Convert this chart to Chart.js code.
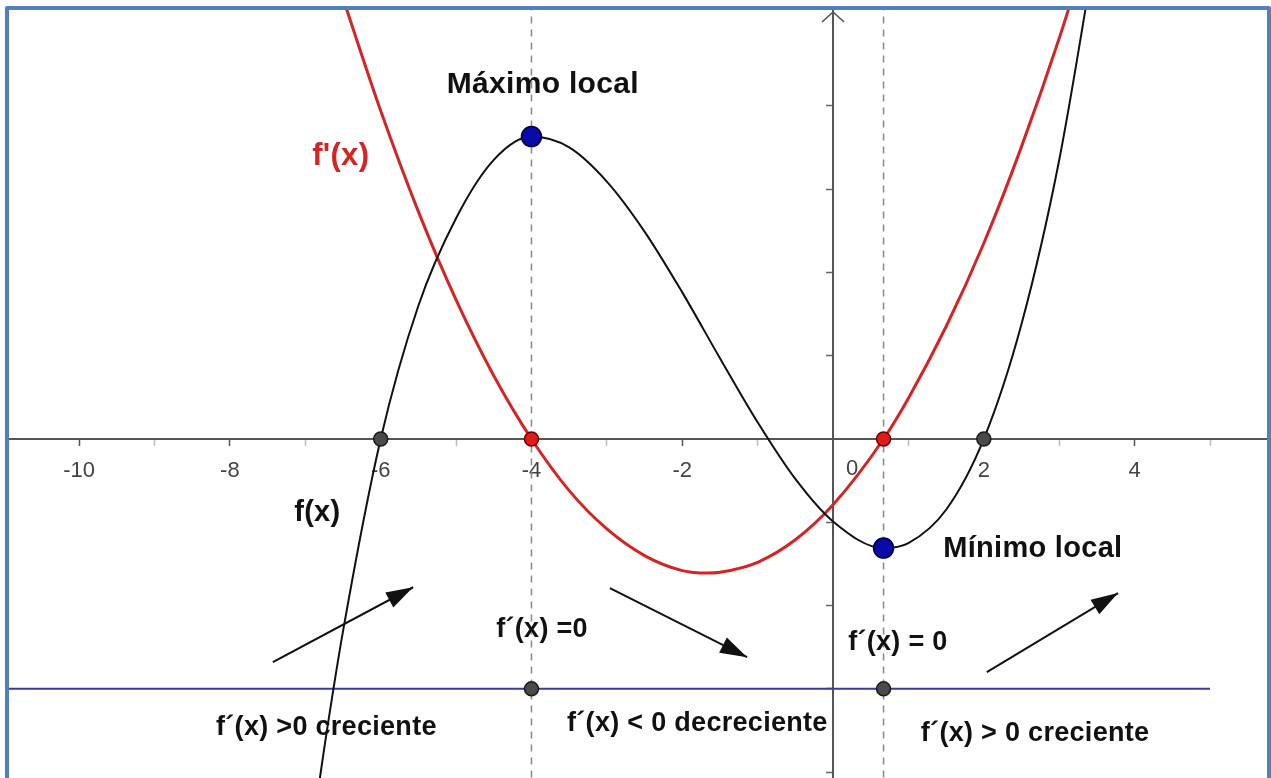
<!DOCTYPE html>
<html>
<head>
<meta charset="utf-8">
<script src="https://cdn.jsdelivr.net/npm/chart.js@4.4.1/dist/chart.umd.min.js"></script>
<style>
  html, body { margin: 0; padding: 0; background: #fff; overflow: hidden; }
  #frame { position: absolute; left: 5px; top: 6px; width: 1258px; height: 800px; border: 4px solid #4f81bd; border-radius: 2px; }
  canvas { display: block; }
</style>
</head>
<body>
<div id="frame"><canvas id="chart" width="1258" height="768"></canvas></div>
<script>
// f(x)
const fX = [-6.9, -6.75, -6.5, -6, -5.5, -5, -4.5, -4, -3.5, -3, -2.5, -2, -1.5, -1, -0.5, 0, 0.67, 1, 1.5, 2, 2.5, 3, 3.5];
const fY = [-4.66, -3.72, -2.31, 0, 1.6, 2.65, 3.35, 3.63, 3.5, 3.09, 2.49, 1.76, 0.97, 0.2, -0.48, -0.99, -1.31, -1.25, -0.85, 0, 1.38, 3.35, 5.98];

// f'(x)
const dX = [-6.5, -6, -5.5, -5, -4.5, -4, -3.5, -3, -2.5, -2, -1.67, -1.5, -1, -0.5, 0, 0.67, 1, 1.5, 2, 2.5, 3, 3.5];
const dY = [5.29, 3.94, 2.73, 1.67, 0.76, 0, -0.62, -1.08, -1.4, -1.58, -1.61, -1.6, -1.48, -1.21, -0.79, 0, 0.49, 1.35, 2.35, 3.51, 4.81, 6.26];

// critical points and marked points
const critX = [-4, 0.67];
const extremaY = [3.63, -1.31];
const rootsX = [-6, 2];
const signLineY = -3;
const signLineX = [-11, 5];

// direction arrows (tail, tip)
const arrow1X = [-7.43, -5.57], arrow1Y = [-2.68, -1.78];
const arrow2X = [-2.96, -1.14], arrow2Y = [-1.79, -2.62];
const arrow3X = [2.04, 3.78], arrow3Y = [-2.8, -1.85];

const xTicks = [-10, -9, -8, -7, -6, -5, -4, -3, -2, -1, 1, 2, 3, 4, 5];
const yTicks = [-4, -3, -2, -1, 1, 2, 3, 4];

const notes = [
  { text: 'Máximo local', x: -3.85, y: 4.25, size: 30, color: '#111' },
  { text: "f'(x)", x: -6.53, y: 3.39, size: 31, color: '#d42424' },
  { text: 'f(x)', x: -6.84, y: -0.89, size: 29, color: '#111' },
  { text: 'Mínimo local', x: 2.65, y: -1.32, size: 29, color: '#111' },
  { text: 'f´(x) =0', x: -3.86, y: -2.29, size: 27, color: '#111' },
  { text: 'f´(x) = 0', x: 0.86, y: -2.44, size: 27, color: '#111' },
  { text: 'f´(x) >0 creciente', x: -6.72, y: -3.47, size: 27, color: '#111' },
  { text: 'f´(x) < 0 decreciente', x: -1.8, y: -3.42, size: 27, color: '#111' },
  { text: 'f´(x) > 0 creciente', x: 2.68, y: -3.54, size: 27, color: '#111' },
];

const pts = (xs, ys) => xs.map((x, i) => ({ x: x, y: ys[i] }));

const arrowSets = [
  { data: pts(arrow1X, arrow1Y) },
  { data: pts(arrow2X, arrow2Y) },
  { data: pts(arrow3X, arrow3Y) },
].map(a => ({
  type: 'line', data: a.data, borderColor: '#111', borderWidth: 2,
  pointRadius: 0, isArrow: true,
}));

const decor = {
  id: 'decor',
  afterDatasetsDraw(chart) {
    const ctx = chart.ctx;
    const xs = chart.scales.x, ys = chart.scales.y;
    ctx.save();

    // arrowheads
    chart.data.datasets.forEach((ds, i) => {
      if (!ds.isArrow) return;
      const m = chart.getDatasetMeta(i).data;
      const p0 = m[0], p1 = m[1];
      const a = Math.atan2(p1.y - p0.y, p1.x - p0.x);
      ctx.fillStyle = '#111';
      ctx.beginPath();
      ctx.moveTo(p1.x, p1.y);
      ctx.lineTo(p1.x - 27 * Math.cos(a) + 8.5 * Math.sin(a), p1.y - 27 * Math.sin(a) - 8.5 * Math.cos(a));
      ctx.lineTo(p1.x - 27 * Math.cos(a) - 8.5 * Math.sin(a), p1.y - 27 * Math.sin(a) + 8.5 * Math.cos(a));
      ctx.closePath();
      ctx.fill();
    });

    // y axis arrow
    const x0 = xs.getPixelForValue(0), y0 = ys.getPixelForValue(0);
    const top = chart.chartArea.top;
    ctx.strokeStyle = '#555';
    ctx.lineWidth = 1.6;
    ctx.beginPath();
    ctx.moveTo(x0 - 11, top + 12);
    ctx.lineTo(x0, top + 2);
    ctx.lineTo(x0 + 11, top + 12);
    ctx.stroke();

    // origin label
    ctx.fillStyle = '#444';
    ctx.font = '22px "Liberation Sans", Arial, sans-serif';
    ctx.textAlign = 'center';
    ctx.textBaseline = 'middle';
    ctx.fillText('0', x0 + 19, y0 + 30);

    // annotations
    notes.forEach(n => {
      ctx.font = 'bold ' + n.size + 'px "Liberation Sans", Arial, sans-serif';
      ctx.letterSpacing = '0.3px';
      ctx.fillStyle = n.color;
      ctx.fillText(n.text, xs.getPixelForValue(n.x), ys.getPixelForValue(n.y));
    });
    ctx.restore();
  }
};

new Chart(document.getElementById('chart'), {
  type: 'scatter',
  data: {
    datasets: [
      { data: pts(critX, extremaY), backgroundColor: '#0a0aa8', borderColor: '#00004a', borderWidth: 1.5, pointRadius: 10 },
      { data: pts(critX, [0, 0]), backgroundColor: '#e01b1b', borderColor: '#6a0000', borderWidth: 1.5, pointRadius: 7 },
      { data: pts(rootsX.concat(critX), [0, 0, signLineY, signLineY]), backgroundColor: '#4a4a4a', borderColor: '#1a1a1a', borderWidth: 1.5, pointRadius: 7 },
      ...arrowSets,
      { type: 'line', data: pts(fX, fY), borderColor: '#111', borderWidth: 2, pointRadius: 0, cubicInterpolationMode: 'monotone' },
      { type: 'line', data: pts(dX, dY), borderColor: '#d42424', borderWidth: 3, pointRadius: 0, cubicInterpolationMode: 'monotone' },
      { type: 'line', data: pts(signLineX, [signLineY, signLineY]), borderColor: '#3a3aa0', borderWidth: 2, pointRadius: 0 },
      { type: 'line', data: pts([critX[0], critX[0]], [-5, 6]), borderColor: '#888', borderWidth: 1.5, borderDash: [7, 6], pointRadius: 0 },
      { type: 'line', data: pts([critX[1], critX[1]], [-5, 6]), borderColor: '#888', borderWidth: 1.5, borderDash: [7, 6], pointRadius: 0 },
    ]
  },
  options: {
    responsive: false,
    animation: false,
    events: [],
    layout: { padding: 0, autoPadding: false },
    plugins: { legend: { display: false }, tooltip: { enabled: false } },
    scales: {
      x: {
        type: 'linear',
        min: -10.93,
        max: 5.756,
        position: { y: 0 },
        afterBuildTicks: s => { s.ticks = xTicks.map(v => ({ value: v })); },
        grid: {
          drawOnChartArea: false,
          tickLength: 6,
          tickWidth: 1.5,
          tickColor: c => (c.tick && Math.abs(c.tick.value) % 2 === 1) ? '#bbb' : '#555',
        },
        border: { color: '#555', width: 2 },
        ticks: {
          autoSkip: false,
          maxRotation: 0,
          padding: 13,
          color: '#444',
          font: { family: '"Liberation Sans", Arial, sans-serif', size: 22 },
          callback: v => (v % 2 === 0 && v !== 0) ? String(v) : '',
        }
      },
      y: {
        type: 'linear',
        min: -4.07,
        max: 5.15,
        position: { x: 0 },
        afterBuildTicks: s => { s.ticks = yTicks.map(v => ({ value: v })); },
        grid: { drawOnChartArea: false, tickLength: 6, tickWidth: 1.5, tickColor: '#666' },
        border: { color: '#555', width: 2 },
        ticks: { display: false }
      }
    }
  },
  plugins: [decor]
});
</script>
</body>
</html>
